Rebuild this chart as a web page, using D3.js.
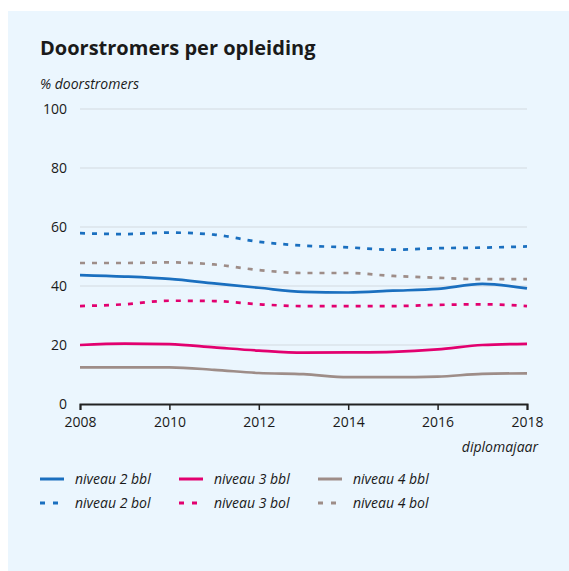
<!DOCTYPE html>
<html>
<head>
<meta charset="utf-8">
<script src="https://cdn.jsdelivr.net/npm/d3@7"></script>
<style>
  body { margin: 0; background: #ffffff; }
  text { font-family: "Open Sans", sans-serif; fill: #1a1a1a; }
</style>
</head>
<body>
<div id="my_dataviz"></div>
<script>
// data
const years = [2008, 2009, 2010, 2011, 2012, 2013, 2014, 2015, 2016, 2017, 2018];
const niveau2bbl = [43.7, 43.2, 42.4, 40.9, 39.4, 38.0, 37.8, 38.4, 39.0, 40.7, 39.2];
const niveau2bol = [57.9, 57.6, 58.1, 57.4, 55.0, 53.7, 53.1, 52.3, 52.8, 53.0, 53.4];
const niveau3bbl = [20.0, 20.5, 20.3, 19.2, 18.1, 17.4, 17.5, 17.7, 18.5, 20.0, 20.4];
const niveau3bol = [33.2, 33.8, 35.0, 34.9, 33.8, 33.2, 33.2, 33.2, 33.6, 33.8, 33.2];
const niveau4bbl = [12.4, 12.4, 12.4, 11.6, 10.5, 10.1, 9.1, 9.1, 9.3, 10.2, 10.4];
const niveau4bol = [47.8, 47.8, 48.0, 47.3, 45.4, 44.4, 44.4, 43.4, 42.8, 42.3, 42.3];
const yTicks = [0, 20, 40, 60, 80, 100];
const xTicks = [2008, 2010, 2012, 2014, 2016, 2018];

const series = [
  { name: "niveau 2 bbl", values: niveau2bbl, color: "#1a6fbf", dashed: false },
  { name: "niveau 2 bol", values: niveau2bol, color: "#1a6fbf", dashed: true },
  { name: "niveau 3 bbl", values: niveau3bbl, color: "#e2006f", dashed: false },
  { name: "niveau 3 bol", values: niveau3bol, color: "#e2006f", dashed: true },
  { name: "niveau 4 bbl", values: niveau4bbl, color: "#9e8d88", dashed: false },
  { name: "niveau 4 bol", values: niveau4bol, color: "#9e8d88", dashed: true }
];

const W = 569, H = 571;
const margin = { top: 109, right: 42, bottom: 167, left: 80 },
    width = W - margin.left - margin.right,
    height = H - margin.top - margin.bottom;

const root = d3.select("#my_dataviz")
    .append("svg")
    .attr("width", W)
    .attr("height", H);

// panel background
root.append("rect")
    .attr("x", 8).attr("y", 11)
    .attr("width", W - 8).attr("height", H - 11)
    .attr("fill", "#ebf6fe");

root.append("text")
    .attr("x", 40).attr("y", 55)
    .style("font-size", "20px")
    .style("font-weight", "bold")
    .text("Doorstromers per opleiding");

root.append("text")
    .attr("x", 40).attr("y", 89)
    .style("font-size", "14px")
    .style("font-style", "italic")
    .text("% doorstromers");

const svg = root.append("g")
    .attr("transform", `translate(${margin.left}, ${margin.top})`);

const x = d3.scaleLinear()
    .domain([2008, 2018])
    .range([0, width]);

const y = d3.scaleLinear()
    .domain([0, 100])
    .range([height, 0]);

// gridlines
svg.append("g")
    .selectAll("line")
    .data(yTicks.filter(d => d > 0))
    .join("line")
    .attr("x1", 0).attr("x2", width)
    .attr("y1", d => y(d)).attr("y2", d => y(d))
    .attr("stroke", "#dbe3ea")
    .attr("stroke-width", 1.5);

// y labels
svg.append("g")
    .selectAll("text")
    .data(yTicks)
    .join("text")
    .attr("x", -13)
    .attr("y", d => y(d) + 5)
    .attr("text-anchor", "end")
    .style("font-size", "14px")
    .text(d => d);

// x axis
const xAxis = svg.append("g")
    .attr("transform", `translate(0, ${height})`)
    .call(d3.axisBottom(x).tickValues(xTicks).tickFormat(d3.format("d")).tickSize(6).tickPadding(7));
xAxis.select(".domain").attr("stroke", "#222").attr("stroke-width", 2);
xAxis.selectAll(".tick line").attr("stroke", "#222").attr("stroke-width", 1.5);
xAxis.selectAll(".tick text")
    .style("font-family", "'Open Sans', sans-serif")
    .style("font-size", "14px")
    .attr("fill", "#1a1a1a");

root.append("text")
    .attr("x", 538).attr("y", 452)
    .attr("text-anchor", "end")
    .style("font-size", "14px")
    .style("font-style", "italic")
    .text("diplomajaar");

// lines
const line = d3.line()
    .x((d, i) => x(years[i]))
    .y(d => y(d))
    .curve(d3.curveMonotoneX);

svg.append("g")
    .selectAll("path")
    .data(series)
    .join("path")
    .attr("d", d => line(d.values))
    .attr("fill", "none")
    .attr("stroke", d => d.color)
    .attr("stroke-width", 2.7)
    .attr("stroke-dasharray", d => d.dashed ? "5,7" : null);

// legend
const legend = root.append("g");
const item = legend.selectAll("g")
    .data(series)
    .join("g")
    .attr("transform", (d, i) => `translate(${40 + Math.floor(i / 2) * 139}, ${479 + (i % 2) * 24})`);

item.append("line")
    .attr("x1", 0).attr("x2", 24)
    .attr("y1", 0).attr("y2", 0)
    .attr("stroke", d => d.color)
    .attr("stroke-width", 3)
    .attr("stroke-dasharray", d => d.dashed ? "5,8" : null);

item.append("text")
    .attr("x", 35)
    .attr("y", 5)
    .style("font-size", "14px")
    .style("font-style", "italic")
    .text(d => d.name);
</script>
</body>
</html>
